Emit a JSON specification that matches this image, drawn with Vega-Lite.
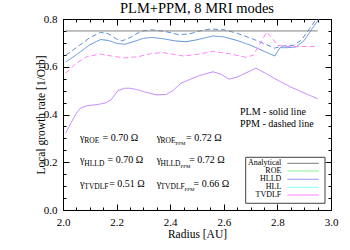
{
  "$schema": "https://vega.github.io/schema/vega-lite/v6.json",
  "width": 268,
  "height": 191,
  "autosize": {"type": "none"},
  "padding": {"left": 63, "top": 19, "right": 19, "bottom": 40},
  "background": "white",
  "title": {"text": "PLM+PPM, 8 MRI modes", "font": "Liberation Serif", "fontSize": 14.5, "fontWeight": "normal", "color": "black", "offset": 5, "dy": 8},
  "config": {
    "view": {"stroke": "black"},
    "font": "Liberation Serif",
    "axis": {"domainColor": "black", "tickColor": "black", "labelFont": "Liberation Serif", "titleFont": "Liberation Serif", "labelFontSize": 11, "titleFontSize": 11.5, "titleFontWeight": "normal", "labelColor": "black", "titleColor": "black", "grid": false, "labelOverlap": false, "labelFlush": false}
  },
  "datasets": {
    "curves": [
      {"r": 2.01, "v": 0.620, "s": "HLLD PLM", "m": "PLM"},
      {"r": 2.05, "v": 0.650, "s": "HLLD PLM", "m": "PLM"},
      {"r": 2.10, "v": 0.692, "s": "HLLD PLM", "m": "PLM"},
      {"r": 2.14, "v": 0.714, "s": "HLLD PLM", "m": "PLM"},
      {"r": 2.17, "v": 0.710, "s": "HLLD PLM", "m": "PLM"},
      {"r": 2.20, "v": 0.698, "s": "HLLD PLM", "m": "PLM"},
      {"r": 2.23, "v": 0.694, "s": "HLLD PLM", "m": "PLM"},
      {"r": 2.26, "v": 0.704, "s": "HLLD PLM", "m": "PLM"},
      {"r": 2.30, "v": 0.719, "s": "HLLD PLM", "m": "PLM"},
      {"r": 2.33, "v": 0.723, "s": "HLLD PLM", "m": "PLM"},
      {"r": 2.37, "v": 0.718, "s": "HLLD PLM", "m": "PLM"},
      {"r": 2.42, "v": 0.708, "s": "HLLD PLM", "m": "PLM"},
      {"r": 2.46, "v": 0.705, "s": "HLLD PLM", "m": "PLM"},
      {"r": 2.50, "v": 0.713, "s": "HLLD PLM", "m": "PLM"},
      {"r": 2.56, "v": 0.729, "s": "HLLD PLM", "m": "PLM"},
      {"r": 2.60, "v": 0.725, "s": "HLLD PLM", "m": "PLM"},
      {"r": 2.65, "v": 0.710, "s": "HLLD PLM", "m": "PLM"},
      {"r": 2.70, "v": 0.690, "s": "HLLD PLM", "m": "PLM"},
      {"r": 2.75, "v": 0.665, "s": "HLLD PLM", "m": "PLM"},
      {"r": 2.79, "v": 0.645, "s": "HLLD PLM", "m": "PLM"},
      {"r": 2.81, "v": 0.680, "s": "HLLD PLM", "m": "PLM"},
      {"r": 2.84, "v": 0.680, "s": "HLLD PLM", "m": "PLM"},
      {"r": 2.87, "v": 0.683, "s": "HLLD PLM", "m": "PLM"},
      {"r": 2.90, "v": 0.710, "s": "HLLD PLM", "m": "PLM"},
      {"r": 2.93, "v": 0.760, "s": "HLLD PLM", "m": "PLM"},
      {"r": 2.955, "v": 0.800, "s": "HLLD PLM", "m": "PLM"},
      {"r": 2.97, "v": 0.830, "s": "HLLD PLM", "m": "PLM"},

      {"r": 2.01, "v": 0.648, "s": "HLLD PPM", "m": "PPM"},
      {"r": 2.05, "v": 0.680, "s": "HLLD PPM", "m": "PPM"},
      {"r": 2.10, "v": 0.722, "s": "HLLD PPM", "m": "PPM"},
      {"r": 2.14, "v": 0.744, "s": "HLLD PPM", "m": "PPM"},
      {"r": 2.17, "v": 0.738, "s": "HLLD PPM", "m": "PPM"},
      {"r": 2.20, "v": 0.716, "s": "HLLD PPM", "m": "PPM"},
      {"r": 2.22, "v": 0.708, "s": "HLLD PPM", "m": "PPM"},
      {"r": 2.25, "v": 0.722, "s": "HLLD PPM", "m": "PPM"},
      {"r": 2.29, "v": 0.748, "s": "HLLD PPM", "m": "PPM"},
      {"r": 2.33, "v": 0.755, "s": "HLLD PPM", "m": "PPM"},
      {"r": 2.38, "v": 0.748, "s": "HLLD PPM", "m": "PPM"},
      {"r": 2.43, "v": 0.735, "s": "HLLD PPM", "m": "PPM"},
      {"r": 2.47, "v": 0.737, "s": "HLLD PPM", "m": "PPM"},
      {"r": 2.51, "v": 0.750, "s": "HLLD PPM", "m": "PPM"},
      {"r": 2.55, "v": 0.758, "s": "HLLD PPM", "m": "PPM"},
      {"r": 2.60, "v": 0.755, "s": "HLLD PPM", "m": "PPM"},
      {"r": 2.65, "v": 0.740, "s": "HLLD PPM", "m": "PPM"},
      {"r": 2.70, "v": 0.720, "s": "HLLD PPM", "m": "PPM"},
      {"r": 2.75, "v": 0.697, "s": "HLLD PPM", "m": "PPM"},
      {"r": 2.79, "v": 0.678, "s": "HLLD PPM", "m": "PPM"},
      {"r": 2.82, "v": 0.687, "s": "HLLD PPM", "m": "PPM"},
      {"r": 2.86, "v": 0.690, "s": "HLLD PPM", "m": "PPM"},
      {"r": 2.89, "v": 0.712, "s": "HLLD PPM", "m": "PPM"},
      {"r": 2.92, "v": 0.760, "s": "HLLD PPM", "m": "PPM"},
      {"r": 2.945, "v": 0.800, "s": "HLLD PPM", "m": "PPM"},
      {"r": 2.96, "v": 0.830, "s": "HLLD PPM", "m": "PPM"},

      {"r": 2.01, "v": 0.573, "s": "TVDLF PPM", "m": "PPM"},
      {"r": 2.05, "v": 0.615, "s": "TVDLF PPM", "m": "PPM"},
      {"r": 2.09, "v": 0.643, "s": "TVDLF PPM", "m": "PPM"},
      {"r": 2.14, "v": 0.653, "s": "TVDLF PPM", "m": "PPM"},
      {"r": 2.18, "v": 0.645, "s": "TVDLF PPM", "m": "PPM"},
      {"r": 2.23, "v": 0.637, "s": "TVDLF PPM", "m": "PPM"},
      {"r": 2.28, "v": 0.642, "s": "TVDLF PPM", "m": "PPM"},
      {"r": 2.33, "v": 0.655, "s": "TVDLF PPM", "m": "PPM"},
      {"r": 2.37, "v": 0.660, "s": "TVDLF PPM", "m": "PPM"},
      {"r": 2.41, "v": 0.652, "s": "TVDLF PPM", "m": "PPM"},
      {"r": 2.45, "v": 0.645, "s": "TVDLF PPM", "m": "PPM"},
      {"r": 2.50, "v": 0.652, "s": "TVDLF PPM", "m": "PPM"},
      {"r": 2.56, "v": 0.664, "s": "TVDLF PPM", "m": "PPM"},
      {"r": 2.62, "v": 0.655, "s": "TVDLF PPM", "m": "PPM"},
      {"r": 2.68, "v": 0.640, "s": "TVDLF PPM", "m": "PPM"},
      {"r": 2.71, "v": 0.648, "s": "TVDLF PPM", "m": "PPM"},
      {"r": 2.74, "v": 0.705, "s": "TVDLF PPM", "m": "PPM"},
      {"r": 2.76, "v": 0.745, "s": "TVDLF PPM", "m": "PPM"},
      {"r": 2.78, "v": 0.720, "s": "TVDLF PPM", "m": "PPM"},
      {"r": 2.80, "v": 0.690, "s": "TVDLF PPM", "m": "PPM"},
      {"r": 2.83, "v": 0.685, "s": "TVDLF PPM", "m": "PPM"},
      {"r": 2.88, "v": 0.685, "s": "TVDLF PPM", "m": "PPM"},
      {"r": 2.945, "v": 0.685, "s": "TVDLF PPM", "m": "PPM"},

      {"r": 2.01, "v": 0.322, "s": "TVDLF PLM", "m": "PLM"},
      {"r": 2.03, "v": 0.365, "s": "TVDLF PLM", "m": "PLM"},
      {"r": 2.05, "v": 0.405, "s": "TVDLF PLM", "m": "PLM"},
      {"r": 2.065, "v": 0.427, "s": "TVDLF PLM", "m": "PLM"},
      {"r": 2.09, "v": 0.437, "s": "TVDLF PLM", "m": "PLM"},
      {"r": 2.13, "v": 0.442, "s": "TVDLF PLM", "m": "PLM"},
      {"r": 2.16, "v": 0.449, "s": "TVDLF PLM", "m": "PLM"},
      {"r": 2.18, "v": 0.462, "s": "TVDLF PLM", "m": "PLM"},
      {"r": 2.205, "v": 0.500, "s": "TVDLF PLM", "m": "PLM"},
      {"r": 2.23, "v": 0.510, "s": "TVDLF PLM", "m": "PLM"},
      {"r": 2.25, "v": 0.510, "s": "TVDLF PLM", "m": "PLM"},
      {"r": 2.28, "v": 0.503, "s": "TVDLF PLM", "m": "PLM"},
      {"r": 2.31, "v": 0.493, "s": "TVDLF PLM", "m": "PLM"},
      {"r": 2.35, "v": 0.482, "s": "TVDLF PLM", "m": "PLM"},
      {"r": 2.385, "v": 0.484, "s": "TVDLF PLM", "m": "PLM"},
      {"r": 2.41, "v": 0.500, "s": "TVDLF PLM", "m": "PLM"},
      {"r": 2.44, "v": 0.531, "s": "TVDLF PLM", "m": "PLM"},
      {"r": 2.51, "v": 0.564, "s": "TVDLF PLM", "m": "PLM"},
      {"r": 2.56, "v": 0.579, "s": "TVDLF PLM", "m": "PLM"},
      {"r": 2.59, "v": 0.568, "s": "TVDLF PLM", "m": "PLM"},
      {"r": 2.62, "v": 0.548, "s": "TVDLF PLM", "m": "PLM"},
      {"r": 2.65, "v": 0.557, "s": "TVDLF PLM", "m": "PLM"},
      {"r": 2.69, "v": 0.578, "s": "TVDLF PLM", "m": "PLM"},
      {"r": 2.72, "v": 0.594, "s": "TVDLF PLM", "m": "PLM"},
      {"r": 2.76, "v": 0.570, "s": "TVDLF PLM", "m": "PLM"},
      {"r": 2.80, "v": 0.544, "s": "TVDLF PLM", "m": "PLM"},
      {"r": 2.85, "v": 0.515, "s": "TVDLF PLM", "m": "PLM"},
      {"r": 2.90, "v": 0.490, "s": "TVDLF PLM", "m": "PLM"},
      {"r": 2.95, "v": 0.466, "s": "TVDLF PLM", "m": "PLM"}
    ],
    "analytical": [
      {"r": 2.01, "v": 0.75},
      {"r": 2.95, "v": 0.75}
    ],
    "gmain": [
      {"r": 2.0634, "v": 0.2903, "t": "γ"},
      {"r": 2.0634, "v": 0.1956, "t": "γ"},
      {"r": 2.0634, "v": 0.0976, "t": "γ"},
      {"r": 2.3496, "v": 0.2903, "t": "γ"},
      {"r": 2.3496, "v": 0.1956, "t": "γ"},
      {"r": 2.3496, "v": 0.0976, "t": "γ"},
      {"r": 2.1474, "v": 0.2903, "t": "= 0.70 Ω"},
      {"r": 2.1660, "v": 0.1956, "t": "= 0.70 Ω"},
      {"r": 2.1724, "v": 0.0976, "t": "= 0.51 Ω"},
      {"r": 2.4590, "v": 0.2903, "t": "= 0.72 Ω"},
      {"r": 2.4709, "v": 0.1956, "t": "= 0.72 Ω"},
      {"r": 2.4869, "v": 0.0976, "t": "= 0.66 Ω"},
      {"r": 2.6604, "v": 0.3966, "t": "PLM - solid line"},
      {"r": 2.6604, "v": 0.3490, "t": "PPM - dashed line"}
    ],
    "gsub": [
      {"r": 2.0795, "v": 0.2903, "t": "ROE"},
      {"r": 2.0795, "v": 0.1956, "t": "HLLD"},
      {"r": 2.0795, "v": 0.0976, "t": "TVDLF"},
      {"r": 2.3638, "v": 0.2903, "t": "ROE"},
      {"r": 2.3638, "v": 0.1956, "t": "HLLD"},
      {"r": 2.3638, "v": 0.0976, "t": "TVDLF"}
    ],
    "gsub2": [
      {"r": 2.4198, "v": 0.2903, "t": "PPM"},
      {"r": 2.4384, "v": 0.1956, "t": "PPM"},
      {"r": 2.4534, "v": 0.0976, "t": "PPM"}
    ],
    "legend": [
      {"name": "Analytical", "v": 0.1956},
      {"name": "ROE", "v": 0.1634},
      {"name": "HLLD", "v": 0.1286},
      {"name": "HLL", "v": 0.0951},
      {"name": "TVDLF", "v": 0.0628}
    ]
  },
  "resolve": {"axis": {"x": "independent", "y": "independent"}, "scale": {"color": "independent", "stroke": "independent"}},
  "layer": [
    {
      "data": {"name": "curves"},
      "mark": {"type": "line", "strokeWidth": 1, "clip": true},
      "encoding": {
        "x": {"field": "r", "type": "quantitative", "scale": {"domain": [2, 3], "nice": false, "zero": false},
          "axis": {"orient": "bottom", "values": [2.0, 2.05, 2.1, 2.15, 2.2, 2.25, 2.3, 2.35, 2.4, 2.45, 2.5, 2.55, 2.6, 2.65, 2.7, 2.75, 2.8, 2.85, 2.9, 2.95, 3.0],
            "tickSize": {"condition": {"test": "abs(datum.value*5-round(datum.value*5))<0.001", "value": -6}, "value": -3},
            "labelExpr": "abs(datum.value*5-round(datum.value*5))<0.001 ? format(datum.value,'.1f') : ''",
            "labelFont": "Liberation Serif", "labelFontSize": 11, "labelColor": "black",
            "titleFont": "Liberation Serif", "titleFontSize": 11.5, "titleFontWeight": "normal", "titleColor": "black",
            "labelPadding": 12, "title": "Radius [AU]", "titlePadding": -2}},
        "y": {"field": "v", "type": "quantitative", "scale": {"domain": [0, 0.8], "nice": false, "zero": false},
          "axis": {"orient": "left", "values": [0, 0.05, 0.1, 0.15, 0.2, 0.25, 0.3, 0.35, 0.4, 0.45, 0.5, 0.55, 0.6, 0.65, 0.7, 0.75, 0.8],
            "tickSize": {"condition": {"test": "abs(datum.value*5-round(datum.value*5))<0.001", "value": -6}, "value": -3},
            "labelExpr": "abs(datum.value*5-round(datum.value*5))<0.001 ? format(datum.value,'.1f') : ''",
            "labelFont": "Liberation Serif", "labelFontSize": 11, "labelColor": "black",
            "titleFont": "Liberation Serif", "titleFontSize": 11.5, "titleFontWeight": "normal", "titleColor": "black",
            "labelPadding": 12, "title": "Local growth rate [1/Orb]", "titlePadding": -3}},
        "detail": {"field": "s"},
        "color": {"field": "s", "type": "nominal", "legend": null,
          "scale": {"domain": ["HLLD PLM", "HLLD PPM", "TVDLF PPM", "TVDLF PLM"], "range": ["#5b8fd8", "#5b8fd8", "#ff80ff", "#c080ff"]}},
        "strokeDash": {"field": "m", "type": "nominal", "legend": null,
          "scale": {"domain": ["PLM", "PPM"], "range": [[1, 0], [5, 3]]}}
      }
    },
    {
      "data": {"name": "analytical"},
      "mark": {"type": "line", "strokeWidth": 1, "color": "#808080"},
      "encoding": {
        "x": {"field": "r", "type": "quantitative",
          "axis": {"orient": "top", "values": [2.0, 2.05, 2.1, 2.15, 2.2, 2.25, 2.3, 2.35, 2.4, 2.45, 2.5, 2.55, 2.6, 2.65, 2.7, 2.75, 2.8, 2.85, 2.9, 2.95, 3.0],
            "tickSize": {"condition": {"test": "abs(datum.value*5-round(datum.value*5))<0.001", "value": -6}, "value": -3},
            "labels": false, "title": null}},
        "y": {"field": "v", "type": "quantitative",
          "axis": {"orient": "right", "values": [0, 0.05, 0.1, 0.15, 0.2, 0.25, 0.3, 0.35, 0.4, 0.45, 0.5, 0.55, 0.6, 0.65, 0.7, 0.75, 0.8],
            "tickSize": {"condition": {"test": "abs(datum.value*5-round(datum.value*5))<0.001", "value": -6}, "value": -3},
            "labels": false, "title": null}}
      }
    },
    {
      "data": {"name": "gmain"},
      "mark": {"type": "text", "align": "left", "baseline": "alphabetic", "fontSize": 10, "font": "Liberation Serif", "color": "black"},
      "encoding": {
        "x": {"field": "r", "type": "quantitative", "axis": null},
        "y": {"field": "v", "type": "quantitative", "axis": null},
        "text": {"field": "t"}
      }
    },
    {
      "data": {"name": "gsub"},
      "mark": {"type": "text", "align": "left", "baseline": "alphabetic", "fontSize": 7.5, "dy": 2.5, "font": "Liberation Serif", "color": "black"},
      "encoding": {
        "x": {"field": "r", "type": "quantitative", "axis": null},
        "y": {"field": "v", "type": "quantitative", "axis": null},
        "text": {"field": "t"}
      }
    },
    {
      "data": {"name": "gsub2"},
      "mark": {"type": "text", "align": "left", "baseline": "alphabetic", "fontSize": 5, "dy": 4.5, "font": "Liberation Serif", "color": "black"},
      "encoding": {
        "x": {"field": "r", "type": "quantitative", "axis": null},
        "y": {"field": "v", "type": "quantitative", "axis": null},
        "text": {"field": "t"}
      }
    },
    {
      "data": {"values": [{"x1": 2.6817, "x2": 2.9776, "y1": 0.2207, "y2": 0.0281}]},
      "mark": {"type": "rect", "fill": "white", "stroke": "#404040", "strokeWidth": 1},
      "encoding": {
        "x": {"field": "x1", "type": "quantitative", "axis": null},
        "x2": {"field": "x2"},
        "y": {"field": "y1", "type": "quantitative", "axis": null},
        "y2": {"field": "y2"}
      }
    },
    {
      "data": {"name": "legend"},
      "mark": {"type": "text", "align": "right", "baseline": "middle", "fontSize": 8, "font": "Liberation Serif", "color": "black"},
      "encoding": {
        "x": {"datum": 2.8146, "type": "quantitative", "axis": null},
        "y": {"field": "v", "type": "quantitative", "axis": null},
        "text": {"field": "name"}
      }
    },
    {
      "data": {"name": "legend"},
      "mark": {"type": "rule", "strokeWidth": 1},
      "encoding": {
        "x": {"datum": 2.8369, "type": "quantitative", "axis": null},
        "x2": {"datum": 2.9541},
        "y": {"field": "v", "type": "quantitative", "axis": null},
        "stroke": {"field": "name", "type": "nominal", "legend": null,
          "scale": {"domain": ["Analytical", "ROE", "HLLD", "HLL", "TVDLF"], "range": ["#7a7a7a", "#90ee90", "#9a9af5", "#88ffff", "#ff80ff"]}}
      }
    }
  ]
}
